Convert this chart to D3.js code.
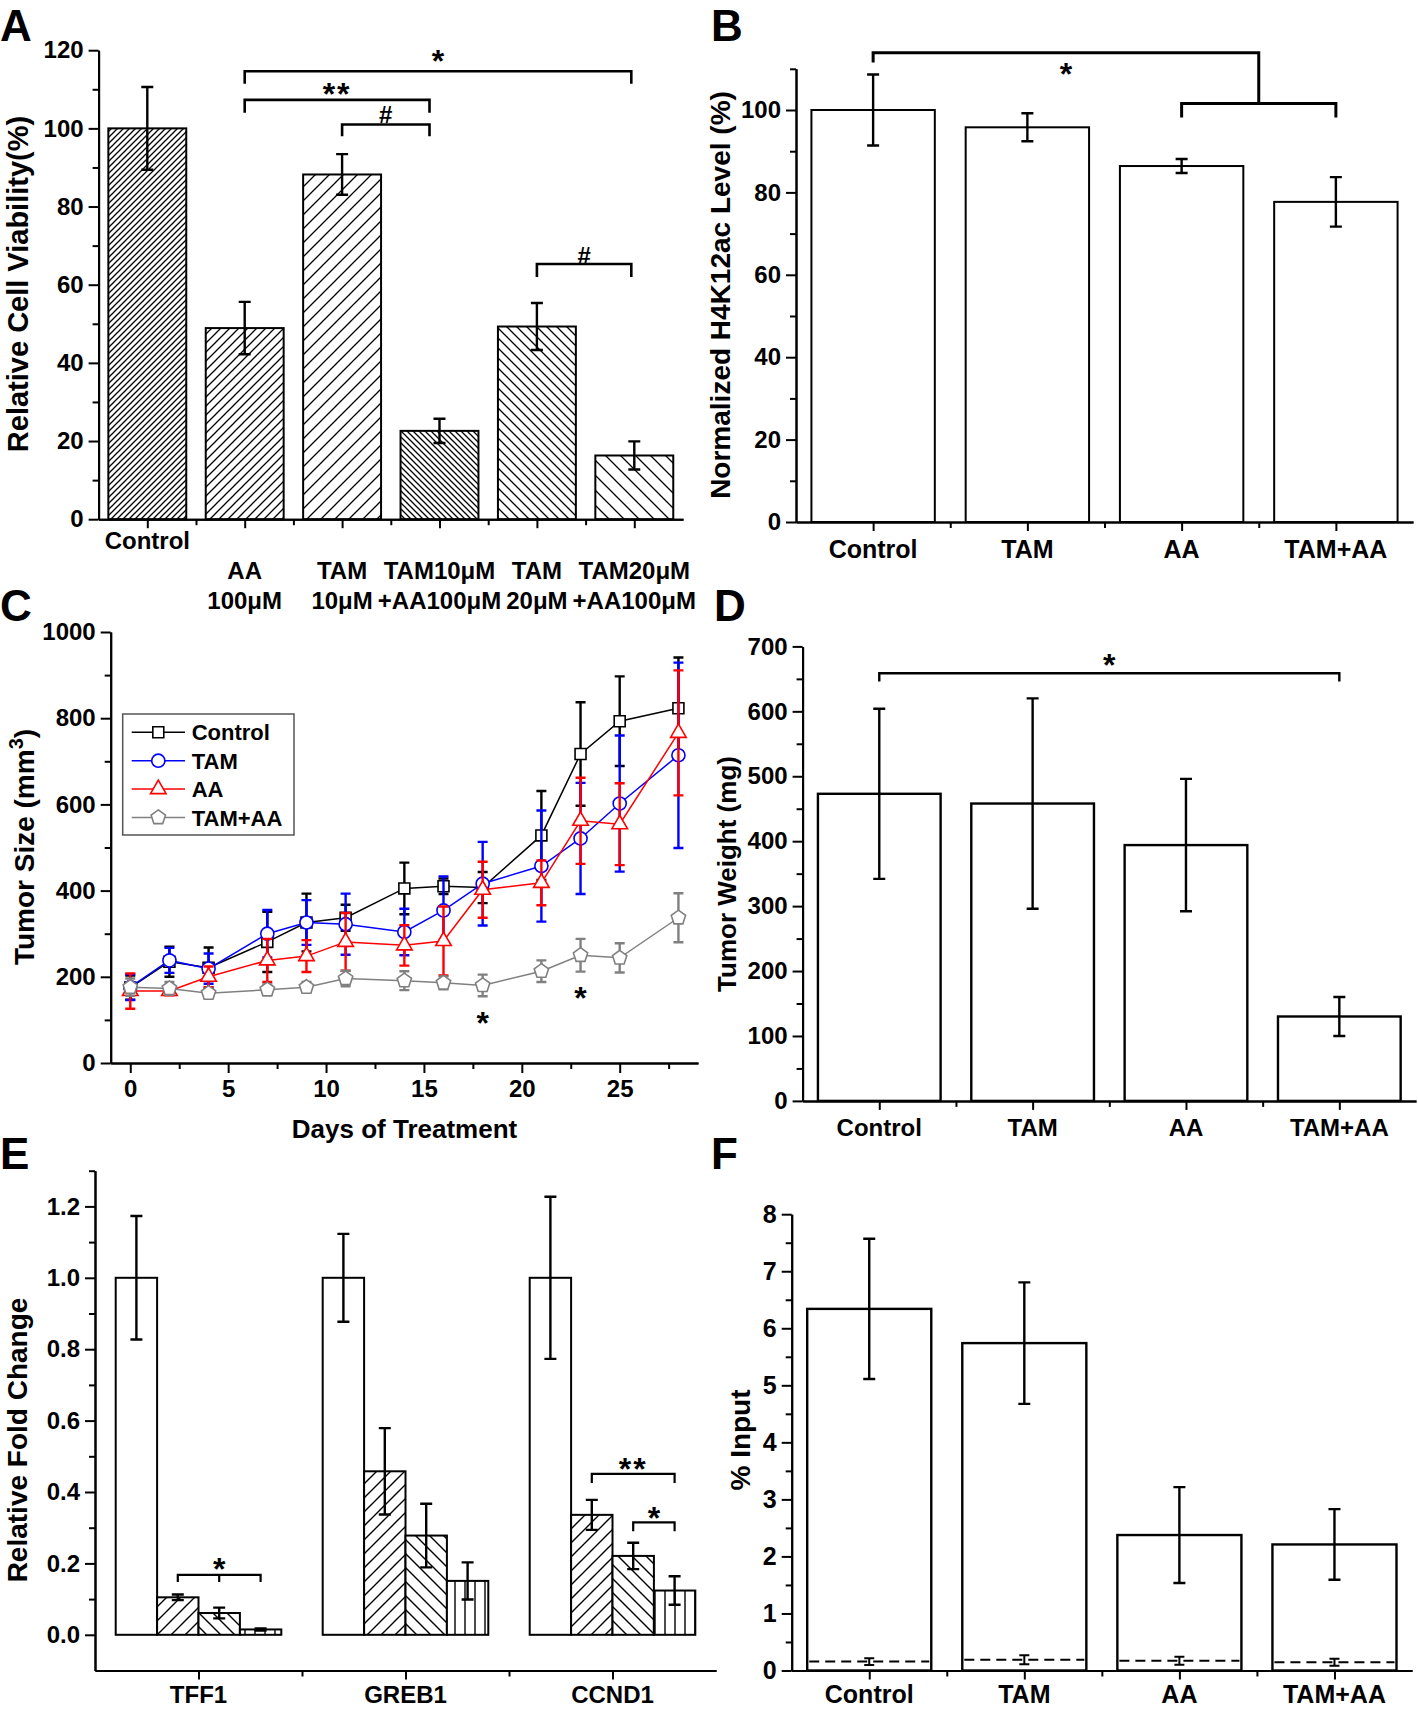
<!DOCTYPE html>
<html>
<head>
<meta charset="utf-8">
<script src="https://cdn.jsdelivr.net/npm/d3@7"></script>
<style>
  body { margin: 0; background: #fff; }
  svg { display: block; }
</style>
</head>
<body>
<svg id="fig" width="1418" height="1709"></svg>
<script>
// ---------- data ----------
// A: relative cell viability
const viabilityLabels = [["Control"], ["", "AA", "100μM"], ["", "TAM", "10μM"], ["", "TAM10μM", "+AA100μM"], ["", "TAM", "20μM"], ["", "TAM20μM", "+AA100μM"]];
const viabilityValues = [100, 48.9, 88.2, 22.6, 49.3, 16.3];
const viabilityErrors = [10.6, 6.7, 5.2, 3.1, 6.0, 3.6];

// B, D, F share the four treatment groups
const groups = ["Control", "TAM", "AA", "TAM+AA"];
const h4k12Values = [100, 95.8, 86.4, 77.7];
const h4k12Errors = [8.6, 3.4, 1.7, 6.0];

// C: tumor size over time
const days = [0, 2, 4, 7, 9, 11, 14, 16, 18, 21, 23, 25, 28];
const sizeControl = [175, 235, 221, 281, 326, 337, 405, 410, 407, 528, 717, 793, 823];
const errControl  = [28, 35, 47, 70, 67, 30, 60, 18, 36, 103, 120, 104, 118];
const sizeTAM = [176, 238, 219, 300, 326, 322, 304, 354, 416, 457, 521, 602, 714];
const errTAM  = [30, 29, 35, 55, 52, 71, 54, 79, 97, 129, 129, 158, 215];
const sizeAA = [167, 167, 200, 238, 248, 281, 273, 283, 402, 418, 562, 554, 766];
const errAA  = [41, 10, 24, 50, 37, 67, 47, 80, 65, 52, 100, 95, 145];
const sizeCombo = [176, 173, 162, 170, 176, 196, 191, 186, 180, 213, 250, 244, 337];
const errCombo  = [20, 15, 8, 12, 12, 18, 22, 15, 25, 25, 38, 34, 57];

// D: tumor weight
const weightValues = [473, 458, 394, 130];
const weightErrors = [131, 162, 102, 30];

// E: relative fold change, four bars per gene
const genes = ["TFF1", "GREB1", "CCND1"];
const foldValues = [
  [1, 1, 1],
  [0.105, 0.458, 0.336],
  [0.061, 0.278, 0.221],
  [0.015, 0.151, 0.124]
];
const foldErrors = [
  [0.173, 0.123, 0.227],
  [0.008, 0.121, 0.042],
  [0.015, 0.089, 0.037],
  [0.003, 0.052, 0.040]
];

// F: % input (bars) and IgG background (dashed)
const inputValues = [6.34, 5.74, 2.375, 2.21];
const inputErrors = [1.23, 1.065, 0.84, 0.62];
const iggValues = [0.156, 0.188, 0.169, 0.144];
const iggErrors = [0.06, 0.08, 0.07, 0.06];

// ---------- helpers ----------
const FONT = '"Liberation Sans", Arial, Helvetica, sans-serif';
const svg = d3.select("#fig");
const defs = svg.append("defs");

function hatch(id, p, dir, sw) {
  let d;
  if (dir === "|") d = `M${p / 2},0V${p}`;
  else if (dir === "/") d = `M${-p / 2},${p / 2}L${p / 2},${-p / 2}M0,${p}L${p},0M${p / 2},${1.5 * p}L${1.5 * p},${p / 2}`;
  else d = `M${-p / 2},${p / 2}L${p / 2},${1.5 * p}M0,0L${p},${p}M${p / 2},${-p / 2}L${1.5 * p},${p / 2}`;
  const pat = defs.append("pattern").attr("id", id)
    .attr("patternUnits", "userSpaceOnUse").attr("width", p).attr("height", p);
  pat.append("rect").attr("width", p).attr("height", p).attr("fill", "#fff");
  pat.append("path").attr("d", d).attr("stroke", "#000").attr("stroke-width", sw).attr("fill", "none");
  return `url(#${id})`;
}

function styleAxis(g, fs) {
  g.attr("font-size", null).attr("font-family", null);
  g.select(".domain").attr("stroke", "#000").attr("stroke-width", 2);
  g.selectAll(".tick line").attr("stroke", "#000").attr("stroke-width", 2);
  g.selectAll(".tick text").attr("fill", "#000").attr("font-size", fs)
    .attr("font-family", FONT).attr("font-weight", "bold");
}

function leftAxis(scale, x, majors, minors, fmt, fs) {
  const gm = svg.append("g").attr("transform", `translate(${x},0)`)
    .call(d3.axisLeft(scale).tickValues(minors).tickSize(6).tickFormat("").tickSizeOuter(0));
  styleAxis(gm, fs);
  const g = svg.append("g").attr("transform", `translate(${x},0)`)
    .call(d3.axisLeft(scale).tickValues(majors).tickSize(10).tickPadding(5).tickFormat(fmt).tickSizeOuter(0));
  styleAxis(g, fs);
}

function bottomAxis(scale, y, majors, minors, fmt, fs) {
  const gm = svg.append("g").attr("transform", `translate(0,${y})`)
    .call(d3.axisBottom(scale).tickValues(minors).tickSize(6).tickFormat("").tickSizeOuter(0));
  styleAxis(gm, fs);
  const g = svg.append("g").attr("transform", `translate(0,${y})`)
    .call(d3.axisBottom(scale).tickValues(majors).tickSize(10).tickPadding(7).tickFormat(fmt).tickSizeOuter(0));
  styleAxis(g, fs);
}

// category axis: long ticks at centres, short ticks between bands
function catAxis(band, y) {
  const n = band.domain().length;
  const s = d3.scaleLinear().domain([0, n]).range(band.range());
  const g1 = svg.append("g").attr("transform", `translate(0,${y})`)
    .call(d3.axisBottom(s).tickValues(d3.range(1, n)).tickSize(6).tickFormat("").tickSizeOuter(0));
  styleAxis(g1);
  const g2 = svg.append("g").attr("transform", `translate(0,${y})`)
    .call(d3.axisBottom(s).tickValues(d3.range(n).map(i => i + 0.5)).tickSize(9).tickFormat("").tickSizeOuter(0));
  styleAxis(g2);
}

function text(x, y, str, fs, anchor) {
  return svg.append("text").attr("x", x).attr("y", y).text(str)
    .attr("font-family", FONT).attr("font-weight", "bold").attr("font-size", fs)
    .attr("text-anchor", anchor || "middle").attr("fill", "#000");
}

function yTitle(bx, cy, str, fs) {
  return svg.append("text")
    .attr("transform", `translate(${bx},${cy}) rotate(-90)`)
    .attr("font-family", FONT).attr("font-weight", "bold").attr("font-size", fs)
    .attr("text-anchor", "middle").attr("fill", "#000").text(str);
}

function panelLetter(x, y, str) { text(x, y, str, 44, "start"); }

// significance marks, centred on (x, cy)
function star(x, cy, str, fs) { text(x, cy + 0.55 * fs, str, fs).attr("letter-spacing", str.length > 1 ? 2 : 0); }
function hash(x, cy, fs) { text(x, cy + 0.36 * fs, "#", fs); }

function errBars(rows, color, sw, cap) {
  svg.append("g").selectAll("path").data(rows).join("path")
    .attr("d", r => `M${r.x},${r.y0}V${r.y1}M${r.x - cap},${r.y0}H${r.x + cap}M${r.x - cap},${r.y1}H${r.x + cap}`)
    .attr("stroke", color).attr("stroke-width", sw).attr("fill", "none");
}

function path(d, sw) {
  return svg.append("path").attr("d", d).attr("stroke", "#000").attr("stroke-width", sw).attr("fill", "none");
}

// plain bar panel used by A, B, D, F
function barPanel(band, y, values, errors, fills, sw) {
  const bw = band.bandwidth();
  svg.append("g").selectAll("rect").data(values).join("rect")
    .attr("x", (v, i) => band(band.domain()[i]))
    .attr("y", v => y(v))
    .attr("width", bw)
    .attr("height", v => y(0) - y(v))
    .attr("fill", (v, i) => fills[i])
    .attr("stroke", "#000").attr("stroke-width", sw);
  errBars(values.map((v, i) => ({
    x: band(band.domain()[i]) + bw / 2, y0: y(v + errors[i]), y1: y(v - errors[i])
  })), "#000", 2.4, 6);
}

// ---------- panel A ----------
panelLetter(0, 41, "A");
const aX = d3.scaleBand().domain(d3.range(viabilityValues.length)).range([98.6, 683]).paddingInner(0.2).paddingOuter(0.1);
const aY = d3.scaleLinear().domain([0, 120]).range([519.2, 50.2]);
const aFills = [hatch("a0", 6, "/", 1.3), hatch("a1", 9, "/", 1.3), hatch("a2", 14, "/", 1.3),
                hatch("a3", 6, "\\", 1.3), hatch("a4", 10, "\\", 1.3), hatch("a5", 15, "\\", 1.3)];
barPanel(aX, aY, viabilityValues, viabilityErrors, aFills, 2);
leftAxis(aY, 98.6, d3.range(0, 121, 20), d3.range(10, 120, 20), d3.format("d"), 24);
catAxis(aX, 519.2);
viabilityLabels.forEach((lines, i) => {
  const cx = aX(i) + aX.bandwidth() / 2;
  lines.forEach((ln, j) => { if (ln) text(cx, 549 + j * 30, ln, 24); });
});
yTitle(28, 284, "Relative Cell Viability(%)", 29);
const ac = i => aX(i) + aX.bandwidth() / 2;
[
  { a: 1, b: 5, y: 114.6, leg: 111.4, dx: -3, mark: "*", my: 118.8 },
  { a: 1, b: 3, y: 107.3, leg: 104, dx: -10, mark: "**", my: 110.6 },
  { a: 2, b: 3, y: 101, leg: 98, dx: -10, mark: "#", my: 103.5 },
  { a: 4, b: 5, y: 65.3, leg: 62, dx: -3, mark: "#", my: 67.6 }
].forEach(br => {
  const xa = ac(br.a), xb = ac(br.b) + br.dx;
  path(`M${xa},${aY(br.leg)}V${aY(br.y)}H${xb}V${aY(br.leg)}`, 2.6);
  if (br.mark === "#") hash((xa + xb) / 2, aY(br.my), 24);
  else star((xa + xb) / 2, aY(br.my), br.mark, 32);
});

// ---------- panel B ----------
panelLetter(711, 41, "B");
const bX = d3.scaleBand().domain(groups).range([796, 1413]).paddingInner(0.2).paddingOuter(0.1);
const bY = d3.scaleLinear().domain([0, 110]).range([522, 68.8]);
barPanel(bX, bY, h4k12Values, h4k12Errors, groups.map(() => "#fff"), 2);
leftAxis(bY, 796, d3.range(0, 101, 20), d3.range(10, 111, 20), d3.format("d"), 24);
catAxis(bX, 522);
groups.forEach(gname => text(bX(gname) + bX.bandwidth() / 2, 557.5, gname, 25));
yTitle(730, 295, "Normalized H4K12ac Level (%)", 28);
{
  const c = gname => bX(gname) + bX.bandwidth() / 2;
  const xm = (c("AA") + c("TAM+AA")) / 2;
  path(`M${c("Control")},${bY(111.5)}V${bY(113.9)}H${xm}V${bY(101.6)}`, 3);
  path(`M${c("AA")},${bY(98.2)}V${bY(101.6)}H${c("TAM+AA")}V${bY(98.2)}`, 3);
  star((c("Control") + xm) / 2, 67, "*", 32);
}

// ---------- panel C ----------
panelLetter(0, 621, "C");
const cX = d3.scaleLinear().domain([-1, 29]).range([110.7, 698]);
const cY = d3.scaleLinear().domain([0, 1000]).range([1063, 632]);
const symbolPentagon = {
  draw(ctx, size) {
    const r = Math.sqrt(size / 2.378);
    for (let i = 0; i < 5; i++) {
      const a = -Math.PI / 2 + i * 2 * Math.PI / 5;
      if (i) ctx.lineTo(r * Math.cos(a), r * Math.sin(a)); else ctx.moveTo(r * Math.cos(a), r * Math.sin(a));
    }
    ctx.closePath();
  }
};
const series = [
  { name: "Control", values: sizeControl, errors: errControl, color: "#000", sym: d3.symbolSquare, size: 120 },
  { name: "TAM", values: sizeTAM, errors: errTAM, color: "#0000ff", sym: d3.symbolCircle, size: 135 },
  { name: "AA", values: sizeAA, errors: errAA, color: "#ff0000", sym: d3.symbolTriangle, size: 105 },
  { name: "TAM+AA", values: sizeCombo, errors: errCombo, color: "#808080", sym: symbolPentagon, size: 135 }
];
const line = d3.line().x(d => cX(d[0])).y(d => cY(d[1]));
series.forEach(s => {
  errBars(days.map((d, i) => ({ x: cX(d), y0: cY(s.values[i] + s.errors[i]), y1: cY(s.values[i] - s.errors[i]) })),
    s.color, 2.4, 5);
  svg.append("path").datum(days.map((d, i) => [d, s.values[i]])).attr("d", line)
    .attr("fill", "none").attr("stroke", s.color).attr("stroke-width", 1.5);
  svg.append("g").selectAll("path").data(days).join("path")
    .attr("transform", (d, i) => `translate(${cX(d)},${cY(s.values[i])})`)
    .attr("d", d3.symbol(s.sym, s.size))
    .attr("fill", "#fff").attr("stroke", s.color).attr("stroke-width", 1.6);
});
leftAxis(cY, 110.7, d3.range(0, 1001, 200), d3.range(100, 1000, 200), d3.format("d"), 24);
bottomAxis(cX, 1063, d3.range(0, 26, 5), d3.range(2.5, 29, 5), d3.format("d"), 24);
text(404.5, 1138, "Days of Treatment", 26);
{
  const t = svg.append("text")
    .attr("transform", "translate(34,847) rotate(-90)")
    .attr("font-family", FONT).attr("font-weight", "bold").attr("font-size", 28)
    .attr("text-anchor", "middle").attr("fill", "#000");
  t.append("tspan").text("Tumor Size (mm");
  t.append("tspan").text("3").attr("font-size", 20).attr("dy", -11);
  t.append("tspan").text(")").attr("dy", 11);
}
star(cX(18), cY(109), "*", 32);
star(cX(23), cY(167), "*", 32);
// legend
svg.append("rect").attr("x", 122.7).attr("y", 714).attr("width", 171.3).attr("height", 121)
  .attr("fill", "#fff").attr("stroke", "#555").attr("stroke-width", 1.5);
series.forEach((s, i) => {
  const ly = 732.3 + i * 28.4;
  svg.append("path").attr("d", `M131.7,${ly}H185`).attr("stroke", s.color).attr("stroke-width", 1.5);
  svg.append("path").attr("transform", `translate(158.3,${ly})`).attr("d", d3.symbol(s.sym, s.size))
    .attr("fill", "#fff").attr("stroke", s.color).attr("stroke-width", 1.6);
  text(191.7, ly + 8, s.name, 22, "start");
});

// ---------- panel D ----------
panelLetter(714, 621, "D");
const dX = d3.scaleBand().domain(groups).range([802.6, 1416]).paddingInner(0.2).paddingOuter(0.1);
const dY = d3.scaleLinear().domain([0, 700]).range([1100.9, 646.4]);
barPanel(dX, dY, weightValues, weightErrors, groups.map(() => "#fff"), 2.4);
leftAxis(dY, 802.6, d3.range(0, 701, 100), d3.range(50, 700, 100), d3.format("d"), 24);
catAxis(dX, 1100.9);
groups.forEach(gname => text(dX(gname) + dX.bandwidth() / 2, 1135.5, gname, 24));
yTitle(735.5, 874, "Tumor Weight (mg)", 26);
{
  const c = gname => dX(gname) + dX.bandwidth() / 2;
  path(`M${c("Control")},${dY(646)}V${dY(658.7)}H${c("TAM+AA")}V${dY(646)}`, 2.4);
  star((c("Control") + c("TAM+AA")) / 2, dY(681), "*", 32);
}

// ---------- panel E ----------
panelLetter(0, 1169, "E");
const eX = d3.scaleBand().domain(genes).range([95, 716]).paddingInner(0.2).paddingOuter(0.1);
const eSub = d3.scaleBand().domain(d3.range(foldValues.length)).range([0, eX.bandwidth()]);
const eY = d3.scaleLinear().domain([-0.1, 1.3]).range([1670.5, 1170.7]);
const eFills = ["#fff", hatch("e1", 14, "/", 1.4), hatch("e2", 14, "\\", 1.4), hatch("e3", 10, "|", 1.4)];
foldValues.forEach((vals, k) => {
  svg.append("g").selectAll("rect").data(vals).join("rect")
    .attr("x", (v, i) => eX(genes[i]) + eSub(k))
    .attr("y", v => eY(v))
    .attr("width", eSub.bandwidth())
    .attr("height", v => eY(0) - eY(v))
    .attr("fill", eFills[k]).attr("stroke", "#000").attr("stroke-width", 2);
});
foldValues.forEach((vals, k) => {
  errBars(vals.map((v, i) => ({
    x: eX(genes[i]) + eSub(k) + eSub.bandwidth() / 2,
    y0: eY(v + foldErrors[k][i]), y1: eY(v - foldErrors[k][i])
  })), "#000", 2.4, 6);
});
leftAxis(eY, 95, d3.range(0, 1.21, 0.2), d3.range(0.1, 1.31, 0.2), d3.format(".1f"), 24);
catAxis(eX, 1670.5);
genes.forEach(gn => text(eX(gn) + eX.bandwidth() / 2, 1703, gn, 24));
yTitle(27, 1440, "Relative Fold Change", 28);
{
  const sc = (gn, k) => eX(gn) + eSub(k) + eSub.bandwidth() / 2;
  path(`M${sc("TFF1", 1)},${eY(0.148)}V${eY(0.168)}H${sc("TFF1", 3)}V${eY(0.148)}M${sc("TFF1", 2)},${eY(0.168)}V${eY(0.148)}`, 2.2);
  star(sc("TFF1", 2), eY(0.203), "*", 32);
  path(`M${sc("CCND1", 1)},${eY(0.4255)}V${eY(0.451)}H${sc("CCND1", 3)}V${eY(0.4255)}`, 2.2);
  star(sc("CCND1", 2), eY(0.482), "**", 32);
  path(`M${sc("CCND1", 2)},${eY(0.29)}V${eY(0.315)}H${sc("CCND1", 3)}V${eY(0.29)}`, 2.2);
  star((sc("CCND1", 2) + sc("CCND1", 3)) / 2, eY(0.346), "*", 32);
}

// ---------- panel F ----------
panelLetter(711, 1169, "F");
const fX = d3.scaleBand().domain(groups).range([791.7, 1412]).paddingInner(0.2).paddingOuter(0.1);
const fY = d3.scaleLinear().domain([0, 8]).range([1670.5, 1214.2]);
barPanel(fX, fY, inputValues, inputErrors, groups.map(() => "#fff"), 2.4);
svg.append("g").selectAll("path").data(iggValues).join("path")
  .attr("d", (v, i) => `M${fX(groups[i]) + 2},${fY(v)}H${fX(groups[i]) + fX.bandwidth() - 2}`)
  .attr("stroke", "#000").attr("stroke-width", 2).attr("stroke-dasharray", "10,6");
errBars(iggValues.map((v, i) => ({
  x: fX(groups[i]) + fX.bandwidth() / 2, y0: fY(v + iggErrors[i]), y1: fY(v - iggErrors[i])
})), "#000", 2, 5);
leftAxis(fY, 791.7, d3.range(0, 9, 1), d3.range(0.5, 8, 1), d3.format("d"), 25);
catAxis(fX, 1670.5);
groups.forEach(gname => text(fX(gname) + fX.bandwidth() / 2, 1703, gname, 25));
yTitle(750, 1440, "% Input", 28);
</script>
</body>
</html>
